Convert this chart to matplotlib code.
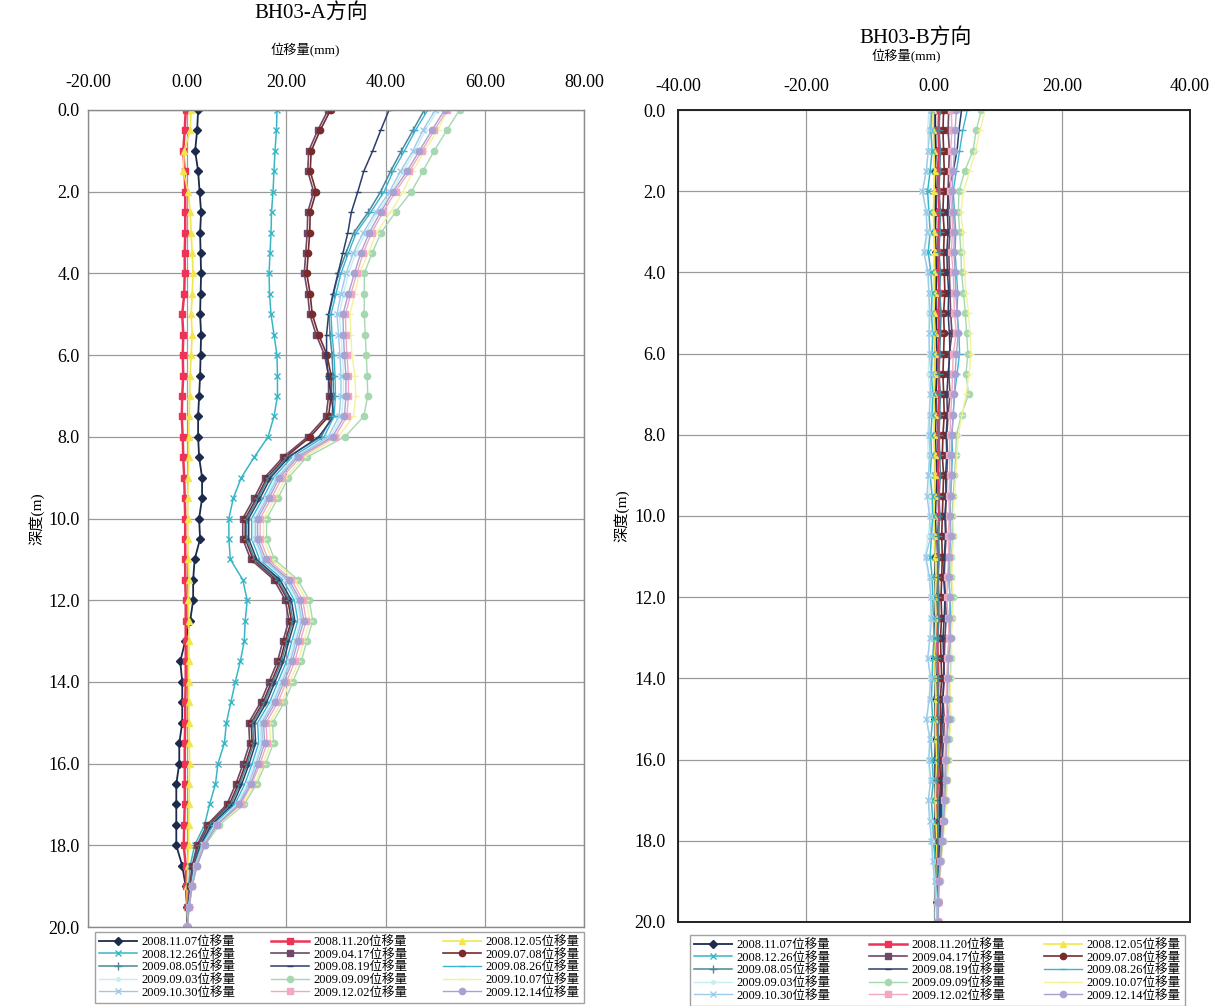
import matplotlib
matplotlib.use("Agg")
import matplotlib.pyplot as plt

plt.rcParams['font.family'] = ['Liberation Serif', 'Noto Sans CJK TC']

# depth of readings (m)
depth = [0.0, 0.5, 1.0, 1.5, 2.0, 2.5, 3.0, 3.5, 4.0, 4.5, 5.0, 5.5, 6.0, 6.5,
         7.0, 7.5, 8.0, 8.5, 9.0, 9.5, 10.0, 10.5, 11.0, 11.5, 12.0, 12.5,
         13.0, 13.5, 14.0, 14.5, 15.0, 15.5, 16.0, 16.5, 17.0, 17.5, 18.0,
         18.5, 19.0, 19.5, 20.0]

labels = ["2008.11.07位移量", "2008.11.20位移量", "2008.12.05位移量",
          "2008.12.26位移量", "2009.04.17位移量", "2009.07.08位移量",
          "2009.08.05位移量", "2009.08.19位移量", "2009.08.26位移量",
          "2009.09.03位移量", "2009.09.09位移量", "2009.10.07位移量",
          "2009.10.30位移量", "2009.12.02位移量", "2009.12.14位移量"]

# ---- A direction (mm) ----
a_1107 = [2.2, 2.0, 1.6, 2.2, 2.5, 2.8, 2.6, 2.7, 2.8, 2.7, 2.6, 2.8, 2.7, 2.6, 2.4, 2.2, 2.2,
          2.4, 3.0, 3.0, 2.4, 2.6, 1.5, 1.2, 1.2, 0.6, -0.4, -1.4, -1.0, -1.0, -1.0, -1.6,
          -1.6, -2.2, -2.2, -2.2, -2.2, -1.0, -0.3, 0.0, 0.0]
a_1120 = [-0.3, -0.5, -0.8, -0.5, -0.4, -0.4, -0.4, -0.5, -0.5, -0.6, -1.0, -0.8, -0.9, -0.8,
          -1.0, -1.1, -0.9, -0.8, -0.6, -0.5, -0.4, -0.4, -0.4, -0.4, -0.3, -0.3, -0.3, -0.3,
          -0.3, -0.4, -0.4, -0.5, -0.5, -0.5, -0.5, -0.6, -0.7, -0.3, -0.2, 0.0, 0.0]
a_1205 = [0.8, 0.6, -0.6, -0.8, 0.2, 0.6, 0.8, 1.0, 1.2, 1.0, 0.8, 1.0, 0.8, 0.6, 0.5, 0.4, 0.3,
          0.3, 0.2, 0.1, 0.1, 0.1, 0.2, 0.4, 0.2, 0.3, 0.4, 0.3, 0.3, 0.3, 0.4, 0.4, 0.5, 0.4,
          0.4, 0.3, 0.3, 0.1, 0.0, 0.0, 0.0]
a_1226 = [18.1, 18.0, 17.7, 17.5, 17.3, 17.0, 16.9, 16.7, 16.5, 16.6, 16.9, 17.5, 18.1, 18.2,
          18.2, 17.5, 16.3, 13.5, 10.9, 9.3, 8.4, 8.4, 8.7, 11.2, 12.1, 11.7, 11.5, 10.7, 9.7,
          8.8, 7.9, 7.5, 6.2, 5.7, 4.5, 3.5, 1.5, 0.6, 0.3, 0.0, 0.0]
a_0417 = [28.4, 26.3, 24.5, 24.3, 25.5, 24.3, 24.2, 23.9, 23.6, 24.3, 24.7, 26.0, 27.7, 28.5,
          28.5, 28.0, 24.3, 19.3, 15.6, 13.5, 11.2, 11.2, 12.8, 17.5, 19.8, 20.5, 19.3, 18.2,
          16.5, 14.8, 12.4, 12.6, 11.3, 9.8, 8.0, 4.0, 2.0, 1.0, 0.5, 0.2, 0.0]
a_0708 = [28.9, 26.8, 25.0, 24.8, 26.0, 24.8, 24.7, 24.4, 24.1, 24.8, 25.2, 26.5, 28.2, 29.0,
          29.0, 28.5, 24.8, 19.8, 16.1, 14.0, 11.7, 11.7, 13.3, 18.0, 20.3, 21.0, 19.8, 18.7,
          17.0, 15.3, 12.9, 13.1, 11.8, 10.3, 8.5, 4.4, 2.3, 1.2, 0.6, 0.2, 0.0]
a_0805 = [47.8, 45.5, 43.2, 41.0, 39.0, 36.5, 33.6, 32.0, 30.5, 29.5, 28.6, 28.8, 29.2, 29.4,
          29.5, 29.2, 27.0, 20.1, 16.4, 14.3, 12.0, 12.0, 13.6, 18.3, 20.6, 21.3, 20.1, 19.0,
          17.3, 15.6, 13.2, 13.4, 12.1, 10.6, 8.8, 4.6, 2.5, 1.3, 0.7, 0.3, 0.0]
a_0819 = [40.7, 39.0, 37.4, 35.6, 34.4, 33.1, 32.4, 31.4, 30.4, 29.4, 28.5, 28.1, 28.1, 28.4,
          29.0, 29.6, 26.5, 20.5, 16.8, 14.7, 12.4, 12.4, 14.0, 18.7, 21.0, 21.7, 20.5, 19.4,
          17.7, 16.0, 13.6, 13.8, 12.5, 11.0, 9.2, 4.9, 2.7, 1.4, 0.8, 0.3, 0.0]
a_0826 = [48.5, 46.0, 43.8, 41.5, 39.7, 37.0, 34.1, 32.5, 31.0, 30.0, 29.0, 29.2, 29.6, 29.8,
          29.9, 29.6, 27.6, 21.1, 17.4, 15.3, 13.0, 13.0, 14.6, 19.3, 21.6, 22.3, 21.1, 20.0,
          18.3, 16.6, 14.2, 14.4, 13.1, 11.6, 9.6, 5.3, 2.9, 1.5, 0.8, 0.3, 0.0]
a_0903 = [50.5, 48.0, 46.0, 43.5, 41.3, 38.5, 36.0, 34.0, 32.5, 31.5, 30.7, 31.0, 31.3, 31.5,
          31.5, 31.1, 28.9, 21.6, 17.9, 15.8, 13.5, 13.5, 15.1, 19.8, 22.1, 22.8, 21.6, 20.5,
          18.8, 17.1, 14.7, 14.9, 13.6, 12.1, 10.0, 5.6, 3.1, 1.6, 0.9, 0.3, 0.0]
a_0909 = [54.9, 52.3, 49.8, 47.5, 45.2, 42.0, 39.1, 37.3, 35.7, 35.7, 35.7, 35.9, 36.1, 36.3,
          36.4, 35.6, 31.8, 24.1, 20.4, 18.3, 16.0, 16.0, 17.6, 22.3, 24.6, 25.3, 24.1, 23.0,
          21.3, 19.6, 17.2, 17.4, 15.8, 14.0, 11.5, 6.5, 3.6, 1.9, 1.0, 0.4, 0.0]
a_1007 = [52.5, 50.5, 47.8, 45.5, 43.5, 41.0, 38.2, 36.5, 34.7, 33.8, 32.8, 33.0, 33.2, 33.8,
          34.0, 33.5, 30.5, 23.5, 19.8, 17.7, 15.4, 15.4, 17.0, 21.7, 24.0, 24.7, 23.5, 22.4,
          20.7, 19.0, 16.6, 16.8, 15.3, 13.6, 11.2, 6.2, 3.4, 1.8, 1.0, 0.4, 0.0]
a_1030 = [50.0, 47.5, 45.5, 43.0, 40.8, 38.0, 35.5, 33.5, 32.0, 31.0, 30.2, 30.5, 30.8, 31.0,
          31.0, 30.6, 28.4, 21.9, 18.2, 16.1, 13.8, 13.8, 15.4, 20.1, 22.4, 23.1, 21.9, 20.8,
          19.1, 17.4, 15.0, 15.2, 13.9, 12.4, 10.3, 5.8, 3.2, 1.7, 0.9, 0.3, 0.0]
a_1202 = [52.4, 49.8, 47.3, 44.8, 42.0, 39.5, 37.2, 35.5, 34.2, 33.0, 31.9, 32.0, 32.2, 32.5,
          32.5, 32.2, 29.8, 22.8, 19.1, 17.0, 14.7, 14.7, 16.3, 21.0, 23.3, 24.0, 22.8, 21.7,
          20.0, 18.3, 15.9, 16.1, 14.7, 13.0, 10.8, 6.0, 3.4, 1.8, 1.0, 0.4, 0.0]
a_1214 = [51.9, 49.3, 46.8, 44.3, 41.5, 39.0, 36.7, 35.0, 33.7, 32.5, 31.4, 31.5, 31.7, 32.0,
          32.0, 31.7, 29.3, 22.3, 18.6, 16.5, 14.2, 14.2, 15.8, 20.5, 22.8, 23.5, 22.3, 21.2,
          19.5, 17.8, 15.4, 15.6, 14.3, 12.8, 10.5, 6.0, 3.5, 2.0, 1.0, 0.4, 0.0]

# ---- B direction (mm) ----
b_1107 = [0.2, 0.2, 0.3, 0.2, 0.3, 0.3, 0.2, 0.3, 0.4, 0.3, 0.3, 0.4, 0.3, 0.4, 0.3, 0.3, 0.2,
          0.3, 0.4, 0.3, 0.2, 0.3, 0.2, 0.2, 0.3, 0.2, 0.1, 0.2, 0.3, 0.2, 0.2, 0.3, 0.2, 0.2,
          0.3, 0.2, 0.3, 0.4, 0.4, 0.5, 0.5]
b_1120 = [0.8, 0.7, 0.8, 0.6, 0.7, 0.8, 0.7, 0.6, 0.7, 0.8, 0.7, 0.8, 0.6, 0.7, 0.8, 0.7, 0.6,
          0.7, 0.6, 0.7, 0.8, 0.6, 0.7, 0.6, 0.7, 0.6, 0.5, 0.6, 0.7, 0.6, 0.5, 0.6, 0.7, 0.6,
          0.5, 0.6, 0.5, 0.6, 0.6, 0.6, 0.6]
b_1205 = [-0.2, -0.1, 0.0, 0.1, 0.0, -0.1, 0.0, 0.1, 0.0, 0.1, 0.0, 0.1, 0.2, 0.1, 0.0, 0.1,
          0.0, 0.1, 0.2, 0.1, 0.0, 0.1, 0.2, 0.3, 0.2, 0.3, 0.2, 0.1, 0.2, 0.3, 0.2, 0.3, 0.4,
          0.3, 0.2, 0.3, 0.4, 0.5, 0.5, 0.5, 0.5]
b_1226 = [-0.4, -0.5, -0.3, -0.6, -1.0, -0.8, -0.6, -0.9, -0.5, -0.3, -0.4, -0.2, -0.3, -0.4,
          -0.2, -0.3, -0.5, -0.4, -0.6, -0.3, -0.2, -0.4, -0.6, -0.3, -0.2, -0.1, 0.0, -0.2,
          -0.3, -0.4, -0.2, -0.5, -0.3, -0.1, -0.4, -0.2, -0.1, 0.2, 0.3, 0.4, 0.5]
b_0417 = [2.3, 2.2, 2.4, 2.3, 2.2, 2.4, 2.5, 2.3, 2.4, 2.5, 2.6, 2.8, 2.4, 2.3, 2.5, 2.2, 2.0,
          2.1, 2.0, 1.9, 1.8, 1.9, 1.7, 1.6, 1.8, 1.9, 1.7, 1.6, 1.5, 1.4, 1.6, 1.5, 1.3, 1.4,
          1.2, 1.1, 1.0, 0.8, 0.7, 0.6, 0.6]
b_0708 = [1.5, 1.4, 1.5, 1.6, 1.5, 1.4, 1.6, 1.5, 1.6, 1.7, 1.5, 1.6, 1.5, 1.4, 1.5, 1.6, 1.4,
          1.3, 1.5, 1.4, 1.3, 1.2, 1.3, 1.2, 1.1, 1.2, 1.0, 1.1, 1.2, 1.0, 1.1, 1.0, 0.9, 1.0,
          0.9, 0.8, 0.8, 0.7, 0.6, 0.6, 0.6]
b_0805 = [0.9, 0.8, 1.0, 0.9, 0.8, 1.0, 0.9, 0.8, 1.0, 0.9, 1.1, 1.0, 0.9, 0.8, 1.0, 0.9, 0.8,
          0.9, 1.0, 0.8, 0.9, 0.7, 0.8, 0.6, 0.7, 0.8, 0.6, 0.5, 0.6, 0.7, 0.8, 0.6, 0.7, 0.5,
          0.6, 0.7, 0.6, 0.6, 0.6, 0.6, 0.6]
b_0819 = [4.3, 3.9, 3.6, 3.0, 2.2, 2.1, 2.2, 2.0, 2.1, 2.3, 2.2, 2.4, 2.5, 2.2, 2.0, 2.1, 1.9,
          2.0, 1.8, 1.9, 1.7, 1.8, 1.6, 1.5, 1.7, 1.6, 1.4, 1.5, 1.6, 1.4, 1.3, 1.2, 1.3, 1.2,
          1.1, 1.0, 0.9, 0.8, 0.7, 0.6, 0.6]
b_0826 = [5.2, 4.5, 4.0, 3.5, 3.0, 3.2, 3.4, 3.3, 3.5, 3.7, 3.6, 3.9, 4.0, 3.6, 3.2, 3.0, 2.8,
          2.9, 2.7, 2.6, 2.5, 2.6, 2.4, 2.3, 2.5, 2.6, 2.3, 2.2, 2.1, 2.0, 2.2, 2.0, 1.8, 1.7,
          1.5, 1.3, 1.1, 0.9, 0.7, 0.6, 0.6]
b_0903 = [-0.8, -1.0, -0.9, -1.2, -1.8, -1.3, -1.0, -1.5, -1.1, -0.8, -0.9, -0.7, -0.8, -0.9,
          -0.6, -0.8, -1.0, -0.9, -0.7, -0.8, -0.6, -0.9, -1.4, -0.8, -0.5, -0.6, -0.7, -0.9,
          -0.6, -0.8, -1.1, -0.7, -0.9, -0.6, -0.8, -0.5, -0.3, -0.1, 0.2, 0.4, 0.5]
b_0909 = [7.4, 6.6, 6.1, 4.8, 3.9, 3.8, 4.0, 4.2, 4.3, 4.6, 4.9, 5.1, 5.3, 5.0, 5.4, 4.3, 3.5,
          3.4, 3.2, 3.0, 2.8, 2.9, 2.7, 2.6, 2.9, 2.8, 2.6, 2.7, 2.5, 2.4, 2.6, 2.3, 2.2, 2.0,
          1.9, 1.6, 1.4, 1.1, 0.9, 0.7, 0.6]
b_1007 = [8.0, 7.2, 6.5, 5.6, 4.6, 4.2, 4.5, 4.6, 4.8, 5.0, 5.4, 5.6, 5.8, 5.5, 5.0, 4.4, 3.8,
          3.6, 3.4, 3.2, 3.0, 3.1, 2.9, 2.8, 3.0, 2.9, 2.7, 2.8, 2.6, 2.5, 2.7, 2.4, 2.3, 2.1,
          2.0, 1.7, 1.4, 1.1, 0.9, 0.7, 0.6]
b_1030 = [-0.5, -0.7, -0.9, -1.2, -1.8, -1.2, -1.1, -1.6, -0.9, -0.8, -0.6, -0.8, -0.7, -0.5,
          -0.6, -0.7, -0.8, -0.6, -0.9, -1.1, -0.7, -0.5, -1.3, -0.7, -0.5, -0.4, -0.6, -1.0,
          -0.5, -0.7, -1.2, -0.6, -0.8, -0.5, -0.9, -0.7, -0.4, -0.2, 0.1, 0.3, 0.5]
b_1202 = [2.7, 2.8, 2.6, 2.7, 2.5, 2.8, 2.9, 2.7, 3.0, 3.1, 3.2, 3.5, 3.0, 2.9, 2.8, 2.6, 2.5,
          2.4, 2.5, 2.3, 2.4, 2.2, 2.3, 2.1, 2.0, 2.2, 2.4, 2.1, 2.0, 1.9, 2.0, 1.8, 1.7, 1.8,
          1.6, 1.4, 1.2, 1.0, 0.8, 0.6, 0.6]
b_1214 = [3.5, 3.3, 3.2, 3.0, 2.8, 3.0, 3.2, 3.1, 3.3, 3.4, 3.6, 3.8, 3.5, 3.3, 3.2, 3.0, 2.8,
          2.7, 2.8, 2.6, 2.5, 2.6, 2.4, 2.3, 2.5, 2.4, 2.6, 2.3, 2.2, 2.1, 2.3, 2.0, 1.9, 1.8,
          1.7, 1.5, 1.3, 1.0, 0.8, 0.7, 0.6]

a_series = [a_1107, a_1120, a_1205, a_1226, a_0417, a_0708, a_0805, a_0819, a_0826,
            a_0903, a_0909, a_1007, a_1030, a_1202, a_1214]
b_series = [b_1107, b_1120, b_1205, b_1226, b_0417, b_0708, b_0805, b_0819, b_0826,
            b_0903, b_0909, b_1007, b_1030, b_1202, b_1214]

# line colour, marker, marker size, line width
styles = [
    ("#1c2b4c", "D", 4.5, 1.3),
    ("#ee3358", "s", 5, 1.8),
    ("#f2e64a", "^", 5, 1.2),
    ("#38b6c6", "x", 5, 1.1),
    ("#6d4868", "s", 5, 1.2),
    ("#7a2a2a", "o", 4.5, 1.2),
    ("#4a8898", "+", 6, 1.1),
    ("#2a3f6a", "_", 5, 1.1),
    ("#3ab4d4", "_", 5, 1.0),
    ("#c6eef0", ".", 5, 1.0),
    ("#a6d8b0", "o", 4.5, 1.0),
    ("#f2f29a", "_", 5, 1.0),
    ("#9ccaea", "x", 5, 1.0),
    ("#f2a8c2", "s", 4.5, 1.0),
    ("#a8a2d2", "o", 4.5, 1.0),
]


def draw_panel(ax, series, xlim, xticks, spine_color, xpad, ypad):
    handles = []
    for vals, lab, (c, m, ms, lw) in zip(series, labels, styles):
        h, = ax.plot(vals, depth, color=c, marker=m, markersize=ms, linewidth=lw,
                     markeredgewidth=1.0, label=lab)
        handles.append(h)
    ax.set_xlim(xlim)
    ax.set_ylim(20, 0)
    ax.set_xticks(xticks)
    ax.set_xticklabels([f"{v:.2f}" for v in xticks])
    ax.set_yticks(range(0, 21, 2))
    ax.set_yticklabels([f"{v:.1f}" for v in range(0, 21, 2)])
    ax.xaxis.tick_top()
    ax.tick_params(axis="x", length=0, pad=xpad, labelsize=13)
    ax.tick_params(axis="y", length=0, pad=ypad, labelsize=13)
    ax.grid(True, color="#9a9a9a", linewidth=0.9)
    ax.set_axisbelow(True)
    for s in ax.spines.values():
        s.set_color(spine_color)
    ax.set_ylabel("深度(m)", fontsize=11, labelpad=3)
    return handles


def ordered(items):
    # legend in the reference reads row by row, matplotlib fills column by column
    return [items[r * 3 + c] for c in range(3) for r in range(5)]


fig = plt.figure(figsize=(12.1, 10.06), dpi=100)

ax1 = fig.add_axes([88 / 1210, 1 - 927 / 1006, 496 / 1210, 817 / 1006])
h1 = draw_panel(ax1, a_series, (-20, 80), [-20, 0, 20, 40, 60, 80], "#8a8a8a", 14, 6)
for s in ax1.spines.values():
    s.set_linewidth(1.0)

ax2 = fig.add_axes([678 / 1210, 1 - 922 / 1006, 512 / 1210, 812 / 1006])
h2 = draw_panel(ax2, b_series, (-40, 40), [-40, -20, 0, 20, 40], "#222222", 11, 9)
for s in ax2.spines.values():
    s.set_linewidth(1.4)

fig.text(311 / 1210, 1 - 13 / 1006, "BH03-A方向", ha="center", va="center", fontsize=15)
fig.text(305 / 1210, 1 - 50 / 1006, "位移量(mm)", ha="center", va="center", fontsize=9.5)
fig.text(916 / 1210, 1 - 38 / 1006, "BH03-B方向", ha="center", va="center", fontsize=15)
fig.text(906 / 1210, 1 - 56 / 1006, "位移量(mm)", ha="center", va="center", fontsize=9.5)

leg_kw = dict(ncol=3, mode="expand", fontsize=9, handlelength=3.0, handletextpad=0.4,
              labelspacing=0.05, borderpad=0.35, fancybox=False, loc="lower left",
              borderaxespad=0.0)
leg1 = fig.legend(ordered(h1), ordered(labels),
                  bbox_to_anchor=(95 / 1210, 3 / 1006, 489 / 1210, 73 / 1006), **leg_kw)
leg1.get_frame().set_edgecolor("#8a8a8a")
leg2 = fig.legend(ordered(h2), ordered(labels),
                  bbox_to_anchor=(690 / 1210, 0.0, 495 / 1210, 83 / 1006), **leg_kw)
leg2.get_frame().set_edgecolor("#8a8a8a")

fig.savefig("out.png", dpi=100)
